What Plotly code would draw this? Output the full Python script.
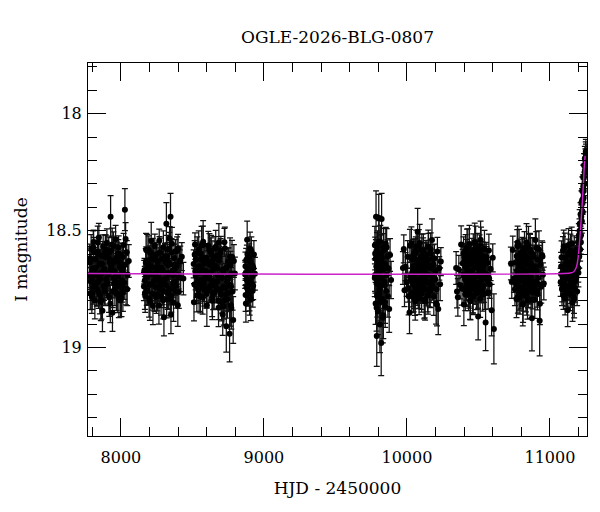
import plotly.graph_objects as go

# OGLE I-band photometry, HJD - 2450000, one set of lists per observing season
t1 = [7779, 7783, 7786, 7792, 7795, 7801, 7806, 7809, 7813, 7818, 7824, 7827, 7831, 7836, 7840,
      7846, 7849, 7853, 7858, 7862, 7867, 7871, 7876, 7880, 7884, 7889, 7893, 7898, 7902, 7907,
      7910, 7915, 7919, 7924, 7928, 7932, 7937, 7941, 7946, 7950, 7953, 7958, 7963, 7966, 7971,
      7975, 7979, 7984, 7988, 7993, 7997, 8001, 8006, 8010, 8014, 8019, 8023, 8028, 8031, 8036,
      8041, 8047, 8055,
      7782, 7788, 7797, 7804, 7811, 7820, 7829, 7838, 7844, 7851, 7856, 7864, 7873, 7878, 7886,
      7895, 7904, 7912, 7921, 7926, 7935, 7943, 7948, 7956, 7961, 7969, 7977, 7982, 7991, 7999,
      8004, 8012, 8021, 8033, 8044,
      7784, 7790, 7799, 7807, 7815, 7822, 7833, 7842, 7854, 7860, 7869, 7882, 7891, 7900, 7913,
      7917, 7930, 7939, 7952, 7960, 7973, 7986, 7995, 8008, 8017]
mag1 = [18.692, 18.635, 18.768, 18.577, 18.711, 18.673, 18.744, 18.548, 18.685, 18.797,
        18.622, 18.659, 18.753, 18.590, 18.720, 18.529, 18.699, 18.776, 18.644, 18.606,
        18.682, 18.842, 18.568, 18.737, 18.665, 18.761, 18.614, 18.708, 18.552, 18.727,
        18.689, 18.597, 18.786, 18.640, 18.440, 18.661, 18.583, 18.851, 18.628, 18.702,
        18.671, 18.751, 18.537, 18.718, 18.619, 18.770, 18.695, 18.572, 18.734, 18.653,
        18.798, 18.603, 18.713, 18.676, 18.765, 18.561, 18.724, 18.410, 18.645, 18.747,
        18.592, 18.688, 18.630,
        18.618, 18.717, 18.784, 18.662, 18.589, 18.735, 18.686, 18.551, 18.762, 18.640,
        18.707, 18.798, 18.607, 18.671, 18.744, 18.579, 18.726, 18.683, 18.624, 18.813,
        18.646, 18.759, 18.565, 18.702, 18.633, 18.771, 18.692, 18.598, 18.738, 18.655,
        18.787, 18.614, 18.719, 18.536, 18.751,
        18.694, 18.627, 18.767, 18.571, 18.722, 18.662, 18.751, 18.600, 18.683, 18.805,
        18.643, 18.738, 18.588, 18.706, 18.616, 18.779, 18.672, 18.559, 18.727, 18.699,
        18.609, 18.792, 18.636, 18.746, 18.655]
err1 = [.06, .05, .07, .06, .05, .06, .07, .05, .06, .08,
        .05, .06, .07, .06, .05, .06, .07, .08, .06, .05,
        .06, .09, .05, .06, .07, .06, .05, .07, .06, .05,
        .06, .07, .08, .06, .09, .05, .06, .08, .07, .06,
        .05, .07, .06, .05, .06, .08, .06, .05, .07, .06,
        .07, .05, .06, .06, .08, .05, .07, .09, .06, .07,
        .05, .06, .07,
        .06, .06, .07, .05, .06, .07, .05, .07, .07, .06,
        .05, .08, .06, .05, .07, .06, .06, .05, .06, .08,
        .05, .07, .06, .05, .06, .07, .05, .06, .07, .05,
        .08, .06, .05, .07, .07,
        .05, .06, .07, .07, .06, .05, .07, .06, .05, .08,
        .06, .06, .07, .05, .06, .07, .05, .07, .06, .05,
        .06, .08, .05, .06, .05]

t2 = [8161, 8165, 8170, 8174, 8179, 8183, 8188, 8192, 8197, 8201, 8205, 8210, 8214, 8219, 8224,
      8228, 8232, 8237, 8241, 8246, 8250, 8255, 8259, 8263, 8268, 8272, 8277, 8281, 8286, 8290,
      8294, 8299, 8301, 8306, 8310, 8314, 8318, 8323, 8327, 8332, 8336, 8341, 8345, 8347, 8350,
      8354, 8359, 8363, 8368, 8372, 8377, 8381, 8386, 8390, 8395, 8400, 8405, 8411, 8418, 8426,
      8437,
      8163, 8168, 8177, 8186, 8195, 8203, 8208, 8217, 8222, 8230, 8235, 8244, 8252, 8257, 8266,
      8275, 8279, 8284, 8292, 8297, 8304, 8312, 8320, 8325, 8330, 8339, 8343, 8352, 8357, 8366,
      8375, 8384, 8393, 8403, 8415,
      8167, 8176, 8181, 8190, 8199, 8212, 8221, 8226, 8239, 8248, 8253, 8261, 8270, 8283, 8288,
      8296, 8308, 8316, 8329, 8334, 8338, 8361, 8370, 8379, 8398]
mag2 = [18.739, 18.668, 18.779, 18.637, 18.697, 18.586, 18.756, 18.650, 18.790, 18.625,
        18.683, 18.596, 18.729, 18.657, 18.822, 18.615, 18.715, 18.565, 18.741, 18.678,
        18.601, 18.773, 18.633, 18.700, 18.543, 18.748, 18.662, 18.781, 18.621, 18.722,
        18.672, 18.759, 18.870, 18.710, 18.609, 18.732, 18.470, 18.580, 18.767, 18.647,
        18.686, 18.533, 18.793, 18.440, 18.860, 18.594, 18.745, 18.669, 18.808, 18.617,
        18.717, 18.588, 18.736, 18.651, 18.690, 18.576, 18.762, 18.632, 18.701, 18.611,
        18.705,
        18.677, 18.766, 18.629, 18.697, 18.582, 18.804, 18.650, 18.729, 18.603, 18.688,
        18.775, 18.620, 18.713, 18.668, 18.820, 18.592, 18.732, 18.659, 18.756, 18.571,
        18.708, 18.637, 18.793, 18.611, 18.681, 18.747, 18.644, 18.778, 18.556, 18.724,
        18.665, 18.761, 18.587, 18.699, 18.626,
        18.713, 18.582, 18.759, 18.668, 18.731, 18.544, 18.770, 18.623, 18.687, 18.784,
        18.651, 18.741, 18.595, 18.718, 18.677, 18.797, 18.614, 18.704, 18.633, 18.764,
        18.577, 18.691, 18.750, 18.646, 18.819]
err2 = [.06, .05, .07, .06, .05, .07, .06, .05, .08, .06,
        .05, .06, .07, .05, .08, .06, .06, .05, .07, .06,
        .05, .07, .06, .06, .05, .07, .06, .08, .05, .06,
        .06, .07, .08, .06, .05, .07, .09, .06, .07, .05,
        .06, .05, .07, .10, .08, .06, .07, .05, .08, .06,
        .06, .05, .07, .06, .05, .06, .07, .05, .06, .06,
        .07,
        .05, .07, .06, .05, .06, .08, .05, .06, .07, .05,
        .07, .06, .05, .06, .08, .06, .07, .05, .06, .07,
        .05, .06, .08, .06, .05, .07, .06, .07, .07, .06,
        .05, .07, .06, .05, .06,
        .06, .07, .06, .05, .06, .08, .07, .06, .05, .07,
        .05, .06, .07, .05, .05, .08, .06, .05, .06, .07,
        .07, .05, .06, .05, .09]

t3 = [8509, 8514, 8518, 8523, 8526, 8531, 8537, 8540, 8544, 8549, 8554, 8558, 8561, 8567, 8572,
      8575, 8580, 8586, 8589, 8593, 8598, 8604, 8607, 8611, 8616, 8622, 8625, 8629, 8634, 8640,
      8643, 8647, 8652, 8658, 8661, 8665, 8670, 8676, 8679, 8683, 8688, 8694, 8697, 8701, 8706,
      8712, 8715, 8719, 8724, 8730, 8733, 8737, 8742, 8748, 8751, 8755, 8760, 8766, 8770, 8777,
      8785, 8797,
      8511, 8520, 8529, 8534, 8542, 8551, 8556, 8564, 8569, 8578, 8583, 8591, 8596, 8601, 8609,
      8614, 8619, 8627, 8632, 8637, 8645, 8650, 8655, 8663, 8668, 8673, 8681, 8686, 8691, 8699,
      8704, 8709, 8717, 8727, 8735, 8740, 8745, 8753, 8758, 8763, 8768, 8773, 8781, 8790,
      8516, 8528, 8535, 8547, 8560, 8565, 8574, 8582, 8592, 8600, 8613, 8618, 8631, 8638, 8649,
      8656, 8667, 8674, 8685, 8695, 8707, 8722, 8739, 8757, 8772]
mag3 = [18.642, 18.730, 18.559, 18.693, 18.623, 18.777, 18.655, 18.752, 18.581, 18.681,
        18.740, 18.599, 18.719, 18.666, 18.787, 18.547, 18.725, 18.618, 18.707, 18.674,
        18.771, 18.634, 18.696, 18.563, 18.754, 18.646, 18.738, 18.591, 18.712, 18.800,
        18.627, 18.664, 18.764, 18.575, 18.723, 18.652, 18.746, 18.605, 18.691, 18.830,
        18.613, 18.756, 18.584, 18.773, 18.700, 18.858, 18.679, 18.824, 18.550, 18.745,
        18.660, 18.909, 18.717, 18.633, 18.766, 18.696, 18.941, 18.648, 18.738, 18.611,
        18.882, 18.683,
        18.806, 18.673, 18.740, 18.597, 18.715, 18.652, 18.782, 18.562, 18.728, 18.641,
        18.753, 18.690, 18.616, 18.819, 18.635, 18.705, 18.583, 18.737, 18.678, 18.604,
        18.768, 18.649, 18.721, 18.569, 18.749, 18.661, 18.800, 18.628, 18.694, 18.594,
        18.806, 18.668, 18.740, 18.575, 18.773, 18.702, 18.794, 18.643, 18.731, 18.611,
        18.818, 18.684, 18.760, 18.630,
        18.602, 18.725, 18.665, 18.775, 18.622, 18.709, 18.561, 18.742, 18.674, 18.760,
        18.639, 18.697, 18.590, 18.788, 18.658, 18.733, 18.608, 18.716, 18.550, 18.754,
        18.701, 18.798, 18.660, 18.731, 18.831]
err3 = [.06, .07, .05, .06, .06, .07, .05, .06, .08, .06,
        .07, .05, .06, .06, .07, .09, .06, .05, .07, .06,
        .06, .05, .07, .06, .05, .06, .07, .06, .05, .08,
        .06, .06, .07, .05, .06, .07, .06, .05, .06, .08,
        .06, .07, .05, .08, .06, .09, .07, .08, .06, .07,
        .06, .11, .07, .06, .08, .07, .12, .06, .08, .07,
        .10, .07,
        .08, .05, .06, .07, .06, .05, .07, .08, .06, .05,
        .07, .05, .06, .09, .06, .05, .07, .06, .05, .06,
        .07, .06, .05, .07, .06, .05, .08, .06, .05, .07,
        .08, .06, .07, .09, .07, .06, .08, .07, .06, .08,
        .09, .07, .08, .07,
        .06, .06, .05, .07, .06, .05, .08, .06, .05, .07,
        .06, .05, .07, .08, .05, .06, .06, .05, .08, .07,
        .06, .08, .07, .06, .09]

t4 = [8869, 8872, 8876, 8879, 8883, 8886, 8890, 8894, 8897, 8901, 8905, 8908, 8912, 8916, 8920,
      8925, 8930, 8937,
      8870, 8874, 8881, 8888, 8892, 8899, 8903, 8910, 8914, 8922,
      8871, 8878, 8885, 8893, 8900, 8907, 8918, 8927]
mag4 = [18.687, 18.775, 18.626, 18.709, 18.539, 18.750, 18.667, 18.763, 18.616, 18.714,
        18.670, 18.795, 18.587, 18.728, 18.649, 18.735, 18.602, 18.684,
        18.684, 18.811, 18.622, 18.716, 18.664, 18.773, 18.576, 18.725, 18.647, 18.757,
        18.652, 18.742, 18.600, 18.718, 18.781, 18.635, 18.697, 18.660]
err4 = [.06, .07, .05, .06, .08, .07, .05, .06, .06, .07, .05, .09, .06, .07, .05, .06, .06, .07,
        .05, .08, .06, .06, .05, .07, .07, .06, .05, .07,
        .06, .07, .06, .05, .08, .06, .05, .06]

t5 = [9775, 9778, 9781, 9784, 9786, 9789, 9792, 9795, 9797, 9800, 9803, 9806, 9809, 9811, 9814,
      9817, 9820, 9823, 9826, 9829, 9832, 9835, 9838, 9841, 9845, 9848, 9852, 9855, 9859, 9863,
      9867, 9871, 9876, 9882, 9889,
      9776, 9780, 9783, 9788, 9791, 9794, 9799, 9802, 9805, 9808, 9813, 9816, 9819, 9825, 9831,
      9837, 9844, 9851,
      9777, 9787, 9793, 9801, 9807, 9815, 9822, 9834, 9847, 9858]
mag5 = [18.702, 18.598, 18.811, 18.440, 18.653, 18.950, 18.727, 18.571, 18.845, 18.632,
        18.445, 18.769, 18.688, 18.901, 18.547, 18.736, 18.980, 18.450, 18.618, 18.792,
        18.667, 18.862, 18.583, 18.719, 18.641, 18.824, 18.556, 18.758, 18.690, 18.609,
        18.780, 18.662, 18.835, 18.604, 18.711,
        18.562, 18.697, 18.618, 18.830, 18.588, 18.715, 18.771, 18.666, 18.547, 18.752,
        18.631, 18.796, 18.598, 18.703, 18.870, 18.570, 18.732, 18.651,
        18.690, 18.618, 18.780, 18.649, 18.807, 18.598, 18.732, 18.645, 18.806, 18.571]
err5 = [.08, .07, .09, .11, .07, .13, .08, .07, .10, .08,
        .10, .08, .07, .12, .07, .08, .14, .11, .07, .09,
        .07, .10, .07, .08, .07, .09, .07, .08, .07, .07,
        .09, .07, .10, .07, .08,
        .08, .07, .08, .10, .08, .07, .08, .07, .09, .08,
        .07, .09, .08, .07, .11, .08, .07, .07,
        .07, .08, .09, .07, .10, .08, .07, .07, .09, .08]

t6 = [9972, 9978, 9983, 9990, 9998, 10005, 10012, 10018, 10025, 10031, 10036, 10040, 10044,
      10048, 10052, 10056, 10060, 10064, 10068, 10072, 10075, 10079, 10083, 10087, 10091, 10095,
      10099, 10103, 10107, 10111, 10115, 10119, 10123, 10127, 10131, 10135, 10139, 10143, 10147,
      10151, 10155, 10159, 10163, 10167, 10171, 10175, 10179, 10183, 10188, 10192, 10197, 10202,
      10207, 10213, 10219, 10226, 10232, 10237,
      10008, 10021, 10028, 10034, 10038, 10042, 10046, 10050, 10054, 10058, 10062, 10066, 10070,
      10077, 10081, 10085, 10089, 10093, 10097, 10101, 10105, 10109, 10113, 10117, 10121, 10125,
      10129, 10133, 10137, 10141, 10145, 10149, 10153, 10161, 10169, 10181, 10195, 10210,
      10032, 10037, 10043, 10047, 10051, 10055, 10059, 10065, 10071, 10078, 10086, 10092, 10098,
      10104, 10110, 10118, 10124, 10132, 10140, 10146, 10158, 10166, 10177, 10190, 10204]
mag6 = [18.660, 18.578, 18.755, 18.654, 18.721, 18.612, 18.780, 18.850, 18.695, 18.554,
        18.766, 18.675, 18.607, 18.731, 18.658, 18.792, 18.595, 18.710, 18.624, 18.749,
        18.505, 18.772, 18.566, 18.723, 18.679, 18.741, 18.633, 18.768, 18.649, 18.699,
        18.584, 18.744, 18.668, 18.803, 18.609, 18.715, 18.622, 18.688, 18.777, 18.571,
        18.726, 18.653, 18.759, 18.597, 18.694, 18.540, 18.737, 18.644, 18.782, 18.618,
        18.708, 18.675, 18.751, 18.589, 18.835, 18.661, 18.729, 18.632,
        18.745, 18.564, 18.711, 18.780, 18.623, 18.689, 18.606, 18.763, 18.651, 18.803,
        18.586, 18.727, 18.674, 18.741, 18.639, 18.789, 18.553, 18.704, 18.612, 18.767,
        18.666, 18.733, 18.591, 18.714, 18.797, 18.630, 18.682, 18.601, 18.752, 18.645,
        18.777, 18.568, 18.723, 18.660, 18.748, 18.620, 18.706, 18.817,
        18.617, 18.720, 18.653, 18.777, 18.596, 18.685, 18.744, 18.568, 18.711, 18.642,
        18.763, 18.664, 18.736, 18.585, 18.726, 18.612, 18.793, 18.649, 18.689, 18.623,
        18.756, 18.579, 18.715, 18.666, 18.810]
err6 = [.07, .06, .07, .06, .06, .07, .08, .09, .06, .07,
        .06, .05, .07, .06, .05, .07, .06, .06, .05, .07,
        .10, .06, .07, .05, .06, .07, .06, .08, .05, .06,
        .07, .06, .05, .08, .06, .05, .07, .06, .08, .06,
        .05, .06, .07, .06, .05, .09, .06, .05, .08, .06,
        .06, .05, .07, .06, .11, .05, .07, .06,
        .06, .07, .05, .07, .06, .05, .06, .07, .05, .08,
        .06, .06, .05, .06, .05, .07, .08, .05, .06, .07,
        .05, .06, .06, .05, .08, .06, .05, .06, .07, .05,
        .07, .07, .06, .05, .06, .06, .05, .09,
        .06, .06, .05, .07, .06, .05, .06, .07, .05, .06,
        .07, .05, .06, .07, .05, .06, .08, .05, .05, .06,
        .07, .07, .05, .05, .09]

t7 = [10344, 10350, 10356, 10363, 10371, 10379, 10385, 10390, 10394, 10398, 10402, 10406, 10410,
      10414, 10418, 10422, 10426, 10430, 10434, 10438, 10442, 10446, 10450, 10454, 10458, 10462,
      10466, 10470, 10474, 10478, 10482, 10486, 10490, 10494, 10498, 10502, 10506, 10510, 10514,
      10518, 10522, 10526, 10530, 10534, 10538, 10542, 10546, 10550, 10554, 10558, 10563, 10568,
      10573, 10579, 10585, 10592, 10600, 10608,
      10396, 10400, 10404, 10408, 10412, 10416, 10420, 10424, 10428, 10432, 10436, 10440, 10444,
      10448, 10452, 10456, 10460, 10464, 10468, 10472, 10476, 10480, 10484, 10488, 10492, 10496,
      10500, 10504, 10508, 10512, 10516, 10520, 10528, 10540, 10552, 10566,
      10401, 10407, 10413, 10419, 10425, 10431, 10437, 10443, 10449, 10455, 10461, 10467, 10473,
      10479, 10485, 10491, 10497, 10503, 10509, 10515, 10524, 10533, 10544, 10556, 10575]
mag7 = [18.660, 18.760, 18.785, 18.666, 18.732, 18.559, 18.748, 18.640, 18.689, 18.816,
        18.614, 18.707, 18.587, 18.761, 18.661, 18.725, 18.572, 18.754, 18.677, 18.623,
        18.799, 18.645, 18.741, 18.593, 18.696, 18.779, 18.632, 18.718, 18.548, 18.750,
        18.656, 18.768, 18.619, 18.691, 18.867, 18.600, 18.723, 18.671, 18.746, 18.565,
        18.711, 18.628, 18.774, 18.652, 18.737, 18.579, 18.700, 18.893, 18.610, 18.686,
        18.638, 18.765, 18.585, 18.729, 18.664, 18.840, 18.616, 18.920,
        18.597, 18.691, 18.634, 18.772, 18.656, 18.738, 18.573, 18.719, 18.685, 18.610,
        18.761, 18.636, 18.801, 18.615, 18.709, 18.670, 18.783, 18.584, 18.728, 18.648,
        18.755, 18.560, 18.696, 18.742, 18.627, 18.765, 18.653, 18.688, 18.588, 18.791,
        18.643, 18.734, 18.607, 18.700, 18.618, 18.717,
        18.634, 18.747, 18.597, 18.698, 18.675, 18.772, 18.557, 18.723, 18.619, 18.708,
        18.781, 18.644, 18.739, 18.606, 18.692, 18.581, 18.761, 18.660, 18.728, 18.539,
        18.749, 18.673, 18.766, 18.628, 18.705]
err7 = [.07, .07, .08, .06, .06, .08, .07, .06, .05, .09,
        .06, .05, .07, .06, .05, .06, .08, .07, .05, .06,
        .08, .06, .07, .06, .05, .08, .06, .07, .08, .06,
        .05, .07, .06, .05, .10, .06, .07, .05, .06, .08,
        .06, .05, .07, .06, .07, .08, .05, .12, .06, .05,
        .06, .07, .07, .06, .05, .11, .06, .15,
        .07, .05, .06, .07, .05, .06, .08, .06, .05, .06,
        .07, .06, .08, .06, .05, .05, .07, .07, .06, .05,
        .06, .08, .05, .06, .06, .07, .05, .05, .07, .08,
        .06, .06, .06, .05, .06, .06,
        .06, .07, .06, .05, .05, .07, .08, .06, .06, .05,
        .07, .05, .06, .06, .05, .07, .07, .05, .06, .08,
        .06, .05, .07, .06, .05]

t8 = [10727, 10733, 10740, 10748, 10755, 10761, 10766, 10770, 10774, 10778, 10782, 10786, 10790,
      10794, 10798, 10802, 10806, 10810, 10814, 10818, 10822, 10826, 10830, 10834, 10838, 10842,
      10846, 10850, 10854, 10858, 10862, 10866, 10870, 10874, 10878, 10882, 10886, 10890, 10894,
      10898, 10902, 10906, 10910, 10914, 10918, 10923, 10928, 10933, 10939, 10945, 10951, 10957,
      10764, 10768, 10772, 10776, 10780, 10784, 10788, 10792, 10796, 10800, 10804, 10808, 10812,
      10816, 10820, 10824, 10828, 10832, 10836, 10840, 10844, 10848, 10852, 10856, 10860, 10864,
      10868, 10872, 10876, 10880, 10888, 10900, 10912, 10926,
      10771, 10777, 10783, 10789, 10795, 10801, 10807, 10813, 10819, 10825, 10831, 10837, 10843,
      10849, 10855, 10861, 10867, 10873, 10879, 10885, 10892, 10904, 10916, 10930, 10948]
mag8 = [18.640, 18.720, 18.583, 18.704, 18.751, 18.635, 18.792, 18.672, 18.551, 18.719,
        18.618, 18.770, 18.649, 18.693, 18.596, 18.746, 18.665, 18.817, 18.627, 18.709,
        18.574, 18.727, 18.682, 18.608, 18.781, 18.643, 18.760, 18.562, 18.698, 18.631,
        18.743, 18.591, 18.715, 18.874, 18.669, 18.612, 18.732, 18.653, 18.795, 18.540,
        18.721, 18.675, 18.757, 18.622, 18.702, 18.581, 18.885, 18.646, 18.740, 18.604,
        18.688, 18.726,
        18.728, 18.608, 18.695, 18.783, 18.642, 18.564, 18.741, 18.676, 18.764, 18.627,
        18.706, 18.589, 18.812, 18.661, 18.750, 18.635, 18.689, 18.777, 18.550, 18.716,
        18.618, 18.758, 18.669, 18.734, 18.581, 18.701, 18.795, 18.647, 18.747, 18.600,
        18.720, 18.656, 18.769, 18.624,
        18.566, 18.743, 18.652, 18.787, 18.613, 18.712, 18.669, 18.774, 18.593, 18.719,
        18.684, 18.620, 18.798, 18.638, 18.753, 18.586, 18.701, 18.647, 18.764, 18.662,
        18.735, 18.574, 18.727, 18.812, 18.610]
err8 = [.07, .07, .06, .06, .07, .05, .08, .06, .07, .06,
        .05, .07, .06, .05, .06, .07, .05, .09, .06, .05,
        .07, .06, .05, .06, .08, .06, .07, .08, .05, .06,
        .07, .06, .05, .14, .06, .05, .07, .06, .08, .09,
        .06, .05, .07, .06, .05, .08, .15, .06, .07, .06,
        .05, .07,
        .06, .06, .05, .07, .05, .07, .06, .05, .07, .06,
        .05, .06, .08, .05, .06, .06, .05, .07, .08, .05,
        .06, .07, .05, .06, .07, .05, .08, .05, .06, .07,
        .06, .05, .07, .06,
        .07, .06, .05, .07, .06, .05, .05, .07, .06, .05,
        .05, .06, .08, .05, .06, .07, .05, .05, .07, .05,
        .06, .07, .05, .09, .06]

t9 = [11075, 11081, 11088, 11094, 11099, 11104, 11108, 11112, 11116, 11120, 11124, 11128, 11132,
      11136, 11140, 11144, 11148, 11152, 11156, 11160, 11164, 11168, 11172, 11176, 11180, 11184,
      11187, 11190, 11193, 11196, 11199, 11202, 11205, 11208, 11211, 11214, 11217, 11220, 11223,
      11226, 11229, 11232, 11235, 11238, 11241, 11244, 11247, 11250, 11253,
      11078, 11084, 11091, 11097, 11102, 11106, 11110, 11114, 11118, 11122, 11126, 11130, 11134,
      11138, 11142, 11146, 11150, 11154, 11158, 11162, 11166, 11170, 11174, 11178,
      11198, 11207, 11216, 11225, 11236, 11243, 11248, 11252,
      11077, 11086, 11096, 11101, 11111, 11119, 11127, 11135, 11143, 11151, 11159, 11169, 11177,
      11182, 11189,
      11201, 11209, 11219, 11228, 11233, 11239, 11245, 11251]
mag9 = [18.721, 18.614, 18.698, 18.777, 18.651, 18.570, 18.735, 18.673, 18.753, 18.632,
        18.840, 18.596, 18.706, 18.641, 18.742, 18.663, 18.768, 18.555, 18.690, 18.729,
        18.609, 18.784, 18.626, 18.715, 18.678, 18.700, 18.580, 18.760, 18.630, 18.550,
        18.680, 18.520, 18.610, 18.470, 18.580, 18.430, 18.520, 18.380, 18.460, 18.330,
        18.420, 18.270, 18.360, 18.220, 18.300, 18.190, 18.240, 18.170, 18.210,
        18.653, 18.751, 18.585, 18.718, 18.668, 18.790, 18.616, 18.699, 18.766, 18.639,
        18.683, 18.561, 18.737, 18.650, 18.772, 18.605, 18.725, 18.672, 18.808, 18.628,
        18.704, 18.592, 18.746, 18.660,
        18.660, 18.500, 18.550, 18.370, 18.330, 18.250, 18.200, 18.180,
        18.685, 18.744, 18.568, 18.711, 18.642, 18.763, 18.664, 18.736, 18.585, 18.726,
        18.612, 18.793, 18.649, 18.689, 18.623,
        18.600, 18.530, 18.440, 18.380, 18.310, 18.270, 18.220, 18.160]
err9 = [.06, .07, .05, .06, .07, .06, .05, .06, .07, .06,
        .07, .06, .05, .06, .07, .05, .06, .07, .05, .06,
        .06, .07, .05, .06, .05, .06, .05, .06, .05, .05,
        .06, .05, .05, .06, .05, .05, .06, .05, .05, .06,
        .05, .05, .06, .05, .05, .05, .05, .05, .05,
        .06, .07, .06, .05, .05, .07, .06, .05, .07, .06,
        .05, .07, .06, .05, .07, .06, .06, .05, .08, .06,
        .05, .07, .06, .05,
        .06, .05, .05, .05, .05, .05, .05, .05,
        .05, .06, .07, .05, .06, .07, .05, .06, .07, .05,
        .06, .08, .05, .05, .06,
        .06, .05, .05, .05, .05, .05, .05, .05]

# microlensing model curve
model_t = [7770, 11100, 11150, 11166, 11185, 11196, 11206, 11215, 11224, 11234, 11240, 11246]
model_mag = [18.683, 18.683, 18.680, 18.676, 18.655, 18.620, 18.555, 18.484, 18.400, 18.300,
             18.225, 18.180]

t = t1 + t2 + t3 + t4 + t5 + t6 + t7 + t8 + t9
mag = mag1 + mag2 + mag3 + mag4 + mag5 + mag6 + mag7 + mag8 + mag9
err = err1 + err2 + err3 + err4 + err5 + err6 + err7 + err8 + err9

FONT = "DejaVu Serif"

fig = go.Figure()
fig.add_trace(go.Scatter(
    x=t, y=mag, mode="markers",
    marker=dict(size=6, color="black"),
    error_y=dict(type="data", array=err, color="#111111", thickness=1.25, width=3),
    showlegend=False))
fig.add_trace(go.Scatter(
    x=model_t, y=model_mag, mode="lines", line=dict(color="#cc22cc", width=1.4, shape="spline"),
    showlegend=False))

axis_common = dict(
    showline=True, linecolor="black", linewidth=1, mirror="allticks",
    ticks="inside", tickcolor="black", tickwidth=1, ticklen=18,
    showgrid=False, zeroline=False,
    tickfont=dict(family=FONT, size=16, color="black"),
)

fig.update_xaxes(
    range=[7770, 11259], tickmode="linear", tick0=8000, dtick=1000, tickformat="d",
    minor=dict(ticks="inside", ticklen=9, tick0=8000, dtick=200, tickcolor="black", showgrid=False),
    ticklabelstandoff=7,
    title=dict(text="HJD - 2450000", font=dict(family=FONT, size=17, color="black"), standoff=15),
    **axis_common)
fig.update_yaxes(
    range=[19.378, 17.783], tickmode="linear", tick0=18, dtick=0.5,
    minor=dict(ticks="inside", ticklen=9, tick0=18, dtick=0.1, tickcolor="black", showgrid=False),
    ticklabelstandoff=2,
    title=dict(text="I magnitude", font=dict(family=FONT, size=17, color="black"), standoff=14),
    **axis_common)

# the page body adds 8 px on the left and top, so the figure is 8 px smaller
fig.update_layout(
    width=592, height=504,
    margin=dict(l=79, r=12, t=55, b=76),
    plot_bgcolor="white", paper_bgcolor="white",
    title=dict(text="OGLE-2026-BLG-0807", x=0.5, xref="paper", y=1 - 29 / 504, yanchor="middle",
               font=dict(family=FONT, size=17, color="black")),
)

fig.write_html("out.html")
